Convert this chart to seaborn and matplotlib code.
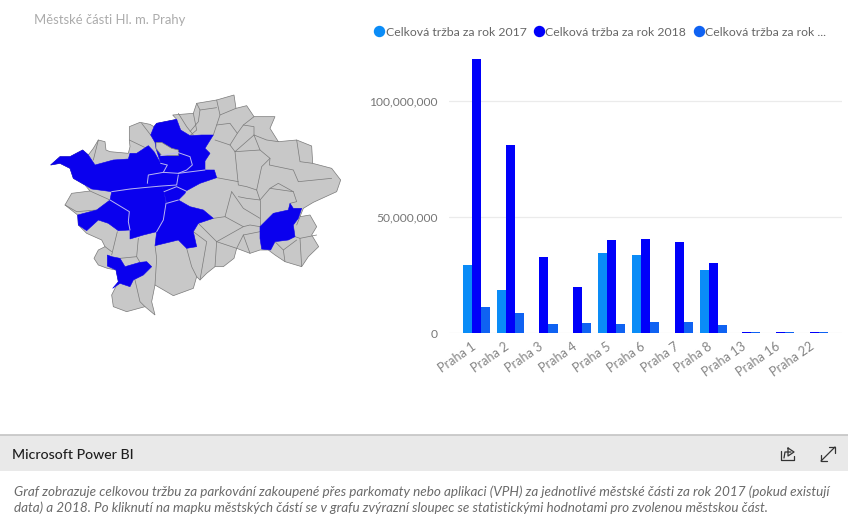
import numpy as np
import pandas as pd
import matplotlib
matplotlib.use("Agg")
import matplotlib.pyplot as plt
from matplotlib.lines import Line2D
from matplotlib.patches import Polygon, Rectangle
from matplotlib.ticker import FuncFormatter
from matplotlib.transforms import ScaledTranslation
import seaborn as sns

categories = ["Praha 1", "Praha 2", "Praha 3", "Praha 4", "Praha 5", "Praha 6",
              "Praha 7", "Praha 8", "Praha 13", "Praha 16", "Praha 22"]
rev_2017 = [29.3, 18.5, np.nan, np.nan, 34.6, 33.6, np.nan, 27.2, np.nan, np.nan, np.nan]
rev_2018 = [118.1, 81.0, 32.6, 19.8, 40.1, 40.5, 39.2, 30.3, 0.4, 0.4, 0.4]
rev_third = [11.4, 8.6, 3.9, 4.5, 4.0, 4.7, 4.7, 3.4, 0.3, 0.3, 0.3]
series_names = ["Celková tržba za rok 2017", "Celková tržba za rok 2018", "Celková tržba za rok ..."]
series_colors = ["#0A8CF7", "#0000FA", "#0F62F2"]
y_ticks = [0, 50_000_000, 100_000_000]

map_title = "Městské části Hl. m. Prahy"
footer_title = "Microsoft Power BI"
footer_lines = [
    "Graf zobrazuje celkovou tržbu za parkování zakoupené přes parkomaty nebo aplikaci (VPH) za jednotlivé městské části za rok 2017 (pokud existují",
    "data) a 2018. Po kliknutí na mapku městských částí se v grafu zvýrazní sloupec se statistickými hodnotami pro zvolenou městskou část.",
]

prague_outline = [(62,240),(90,215),(120,215),(158,195),(175,210),(190,190),(205,165),(225,170),(228,195),(240,200),
    (295,205),(300,185),(298,165),(298,125),(330,112),(360,118),(372,125),(380,115),(440,103),(428,90),(490,85),(500,55),
    (560,45),(612,30),(618,70),(650,62),(672,95),(735,95),(720,130),(745,170),(800,165),(845,183),(848,235),
    (905,250),(932,285),(920,320),(850,352),(820,370),(810,395),(840,390),(860,425),(845,450),(866,485),(835,515),
    (815,545),(765,530),(735,510),(715,495),(690,495),(660,505),(620,490),(612,520),(580,545),(555,545),(530,565),
    (510,585),(500,575),(490,610),(430,632),(375,600),(365,650),(375,690),(345,665),(290,680),(250,665),(245,630),
    (265,590),(258,555),(232,550),(205,540),(192,520),(205,495),(225,485),(215,465),(170,445),(145,420),(143,390),
    (105,360),(125,325),(180,318),(165,300),(130,280),(120,250),(90,235)]
blue_districts = [
    [(62,240),(90,215),(120,215),(158,195),(175,210),(195,240),(250,225),(295,222),(300,205),(320,205),(355,182),
     (372,200),(392,235),(400,262),(355,270),(352,295),(395,303),(340,308),(300,312),(245,320),(185,312),(165,300),
     (130,280),(120,250),(90,235)],
    [(362,150),(372,125),(380,115),(440,103),(452,135),(480,152),(515,150),(550,150),(525,190),(540,205),(525,228),
     (525,258),(487,268),(400,268),(392,235),(378,190),(375,172)],
    [(355,270),(400,262),(445,265),(525,255),(553,255),(560,278),(510,295),(468,318),(465,325),(445,345),(410,355),
     (402,320),(395,303),(352,295)],
    [(245,320),(340,308),(395,303),(402,320),(408,355),(445,345),(480,365),(520,375),(550,400),(505,415),(490,440),
     (500,485),(470,490),(445,465),(375,482),(380,440),(340,450),(300,462),(300,435),(295,410),(298,380),(240,345)],
    [(143,390),(200,375),(240,345),(298,380),(295,410),(300,435),(265,437),(235,415),(205,405),(170,437),(145,420)],
    [(232,510),(245,515),(270,520),(285,545),(330,532),(350,530),(365,545),(340,570),(310,585),(300,605),(270,595),
     (248,610),(265,590),(258,555),(232,543)],
    [(690,425),(730,385),(775,375),(780,355),(790,370),(815,370),(805,400),(790,420),(795,455),(775,465),(735,470),
     (722,495),(695,492),(690,460)],
]
gray_hole = [(378,172),(395,172),(425,190),(445,195),(445,212),(420,212),(395,212),(378,190)]
white_borders = [
    [(245,320),(300,312),(340,308),(395,303),(440,300),(445,270)],
    [(352,295),(355,270),(400,262),(445,265),(525,255)],
    [(392,212),(445,203),(480,215),(487,240),(470,255),(445,265)],
    [(392,235),(412,240),(400,262)],
    [(402,320),(440,305),(468,318)],
    [(408,355),(400,405),(380,440)],
    [(240,345),(298,380),(295,410),(300,435)],
    [(410,355),(445,345)],
]
gray_borders = [
    [(180,318),(240,345)], [(105,360),(140,380),(200,375)], [(205,165),(190,225)], [(298,165),(350,190)],
    [(335,115),(362,150)], [(490,85),(500,135),(480,152)], [(445,85),(470,125),(490,150)],
    [(570,90),(560,120),(550,150)], [(560,120),(600,115),(622,145),(600,180),(555,165)],
    [(622,145),(640,120),(672,125),(672,150),(615,200),(600,180)], [(672,95),(640,120)],
    [(672,150),(710,165),(745,170)], [(672,150),(690,195),(615,200)], [(560,45),(570,90),(618,70)],
    [(500,55),(510,75),(560,68)], [(510,75),(505,110),(480,140)],
    [(615,200),(625,300),(650,305),(680,315)], [(560,278),(625,290)], [(690,195),(720,220),(695,245),(680,315)],
    [(720,220),(718,240),(790,255),(805,290)], [(800,165),(810,230),(848,235)], [(805,290),(905,280)],
    [(680,315),(690,345),(720,310),(790,320),(800,350),(780,355)], [(720,310),(745,295),(790,320)],
    [(690,345),(690,405),(690,425)], [(605,320),(640,370),(690,400)], [(605,320),(585,395),(640,425),(660,420),(690,425)],
    [(625,335),(650,340),(690,345)], [(550,400),(585,395)], [(505,415),(560,470),(640,425)],
    [(560,470),(620,490)], [(640,450),(660,505)], [(640,450),(690,440)], [(490,440),(530,470),(510,585)],
    [(560,470),(555,545)], [(470,490),(485,545),(500,575)], [(375,482),(380,520),(375,600)],
    [(325,460),(320,515),(330,532)], [(262,440),(245,510)], [(225,485),(245,500)], [(320,515),(270,520)],
    [(315,585),(330,650),(345,665)], [(795,455),(810,460),(815,545)], [(810,460),(860,450)],
    [(735,470),(760,495),(765,530)], [(810,395),(800,420)], [(760,495),(800,465)], [(620,490),(640,450)],
]

sns.set_theme(style="white", rc={"font.family": ["Lato", "DejaVu Sans"]})
fig = plt.figure(figsize=(8.48, 5.24), dpi=100, facecolor="white")
W, H = 848.0, 524.0

def px_axes(l, t, r, b, **kw):
    return fig.add_axes([l / W, 1 - b / H, (r - l) / W, (b - t) / H], **kw)

# Bar chart
ax = px_axes(449, 50, 842, 333)
df = pd.DataFrame({"district": categories * 3,
                   "value": [v * 1e6 for v in rev_2017 + rev_2018 + rev_third],
                   "series": sum([[s] * len(categories) for s in series_names], [])})
sns.barplot(data=df, x="district", y="value", hue="series", order=categories, hue_order=series_names,
            palette=series_colors, saturation=1, width=0.8, gap=0, legend=False, ax=ax, linewidth=0)
ax.set_xlim(-0.808, 10.81)
ax.set_ylim(0, 283 / 2.32 * 1e6)
ax.set_yticks(y_ticks)
ax.yaxis.set_major_formatter(FuncFormatter(lambda v, _: f"{int(v):,}"))
ax.set_xlabel("")
ax.set_ylabel("")
ax.grid(axis="y", color="#EBEBEB", lw=0.9)
ax.set_axisbelow(True)
for s in ax.spines.values():
    s.set_visible(False)
ax.tick_params(axis="y", length=0, labelsize=8.7, labelcolor="#777777", pad=8)
ax.tick_params(axis="x", length=0, labelsize=9.2, labelcolor="#858585", pad=5)
plt.setp(ax.get_xticklabels(), rotation=35, ha="right", rotation_mode="anchor")
shift = ScaledTranslation(-5.5 / 100, 0, fig.dpi_scale_trans)
for lab in ax.get_xticklabels():
    lab.set_transform(lab.get_transform() + shift)

handles = [Line2D([], [], marker="o", ls="", ms=7.2, color=c) for c in series_colors]
fig.legend(handles, series_names, ncol=3, loc="center left", bbox_to_anchor=(371 / W, 1 - 32 / H),
           frameon=False, fontsize=8.8, labelcolor="#666666", handletextpad=-0.1, columnspacing=0.35,
           borderpad=0, borderaxespad=0, handlelength=1.3)

# District map
mp = px_axes(30, 85, 350, 325)
mp.set_xlim(0, 960)
mp.set_ylim(720, 0)
mp.axis("off")
mp.add_patch(Polygon(prague_outline, closed=True, fc="#C8C8C8", ec="#7A7A7A", lw=0.5))
for d in blue_districts:
    mp.add_patch(Polygon(d, closed=True, fc="#0A00EE", ec="#0A00EE", lw=0.4, zorder=3))
mp.add_patch(Polygon(gray_hole, closed=True, fc="#C8C8C8", ec="#7A7A7A", lw=0.5, zorder=4))
for b in gray_borders:
    mp.plot(*zip(*b), color="#7A7A7A", lw=0.5, zorder=2)
for b in white_borders:
    mp.plot(*zip(*b), color="#B9B6F2", lw=0.7, zorder=5)

# Page furniture
ov = fig.add_axes([0, 0, 1, 1], zorder=-1)
ov.set_xlim(0, W)
ov.set_ylim(H, 0)
ov.axis("off")
ov.add_patch(Rectangle((0, 434.5), W, 36.5, fc="#E9E9E9", ec="none"))
ov.plot([0, W], [434.5, 434.5], color="#C4C4C4", lw=1.2)
ov.text(34, 20, map_title, fontsize=9.4, color="#ABABAB", va="center", ha="left")
ov.text(12, 455, footer_title, fontsize=10.2, color="#1E1E1E", va="center", ha="left", fontweight="medium")
for y, line in zip((492, 508), footer_lines):
    ov.text(14, y, line, fontsize=9.72, style="italic", color="#6A6A6A", va="center", ha="left")
# share icon
ov.plot([781, 781, 794, 794], [451, 460, 460, 456], color="#333333", lw=0.9)
ov.plot([784, 785, 791], [458, 452, 452], color="#333333", lw=0.9)
ov.plot([788, 794, 788, 788], [448, 452, 456, 448], color="#333333", lw=0.9)
# expand icon
ov.plot([821, 835], [461, 447], color="#333333", lw=0.9)
ov.plot([829, 835, 835], [447, 447, 453], color="#333333", lw=0.9)
ov.plot([821, 821, 827], [455, 461, 461], color="#333333", lw=0.9)

fig.savefig("out.png", dpi=100)
